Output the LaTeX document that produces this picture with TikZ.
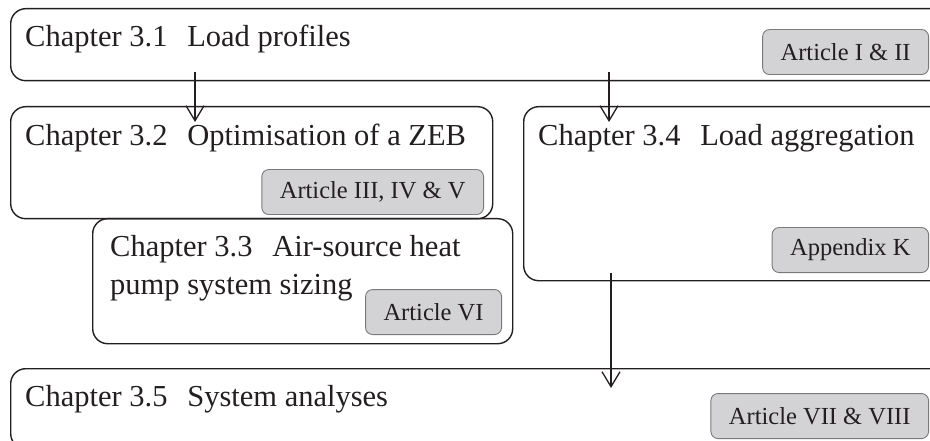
\documentclass[tikz,border=0pt]{standalone}
\usepackage{fontspec}
\setmainfont{Liberation Serif}
\usepackage{tikz}
\usetikzlibrary{positioning, arrows.meta}
\definecolor{ink}{HTML}{231F20}
\definecolor{tagfill}{HTML}{D3D3D5}
\definecolor{tagline}{HTML}{7A7A7A}
\newcommand{\chgap}{\hspace{0.65em}}

\begin{document}
\begin{tikzpicture}[
    x=1pt, y=-1pt,
    box/.style={draw=ink, line width=1.4pt, rounded corners=15pt, anchor=north west, inner sep=0pt},
    tag/.style={draw=tagline, fill=tagfill, line width=0.9pt, rounded corners=7pt, minimum height=45pt, inner xsep=18pt, anchor=south east, text=ink, font=\fontsize{24.5}{29}\selectfont},
    hd/.style={anchor=base west, inner sep=0pt, text=ink, font=\fontsize{30.5}{38}\selectfont},
    arr/.style={draw=ink, line width=1.3pt, -{Straight Barb[length=15pt, width=18pt]}}
  ]
  \useasboundingbox (0,0) rectangle (930,441);
  \clip (0,0) rectangle (930,441);
  % chapter boxes
  \node[box, minimum width=940pt, minimum height=72pt] (b31) at (10,8) {};
  \node[box, minimum width=482pt, minimum height=112pt] (b32) at (10,106) {};
  \node[box, minimum width=420pt, minimum height=125pt] (b33) at (92,218) {};
  \node[box, minimum width=427pt, minimum height=174pt] (b34) at (523,106) {};
  \node[box, minimum width=940pt, minimum height=80pt] (b35) at (10,368) {};
  % headings
  \node[hd] (h31) at (25,47) {Chapter 3.1\chgap Load profiles};
  \node[hd] (h32) at (25,146) {Chapter 3.2\chgap Optimisation of a ZEB};
  \node[hd, anchor=north west, align=left] (h33) at (110,235) {Chapter 3.3\chgap Air-source heat\\pump system sizing};
  \node[hd] (h34) at (538,146) {Chapter 3.4\chgap Load aggregation};
  \node[hd] (h35) at (25,406) {Chapter 3.5\chgap System analyses};
  % article tags
  \foreach \n/\x/\y/\t in {1/929/75/{Article I \& II}, 2/484/215/{Article III, IV \& V}, 3/502/335/{Article VI}, 4/929/273/{Appendix K}, 5/929/439/{Article VII \& VIII}}{
    \node[tag] (t\n) at (\x,\y) {\t};
  }
  % links
  \draw[arr] ([xshift=185pt, yshift=9pt]b31.south west) -- ([xshift=185pt, yshift=-16pt]b32.north west);
  \draw[arr] ([xshift=599pt, yshift=9pt]b31.south west) -- ([xshift=86pt, yshift=-16pt]b34.north west);
  \draw[arr] ([xshift=88pt, yshift=8pt]b34.south west) -- ([xshift=601pt, yshift=-20pt]b35.north west);
\end{tikzpicture}
\end{document}
